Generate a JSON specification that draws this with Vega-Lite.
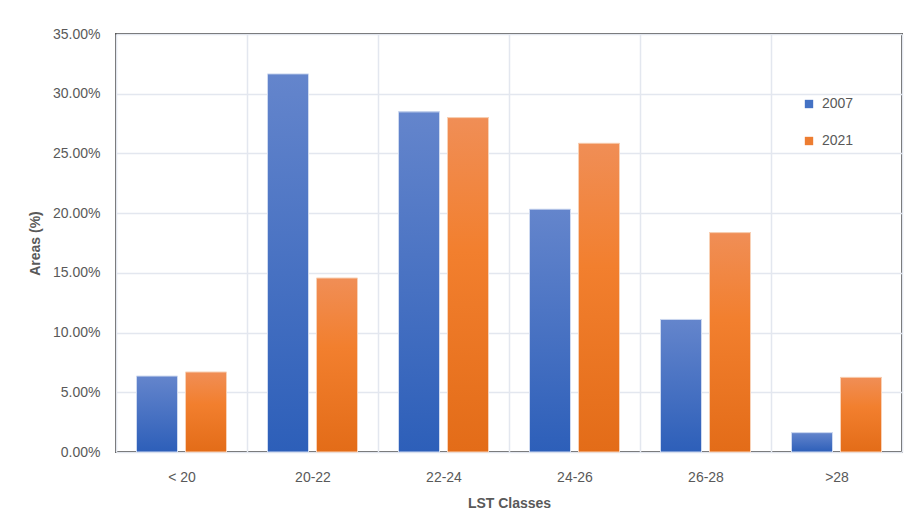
{
  "$schema": "https://vega.github.io/schema/vega-lite/v6.json",
  "autosize": {"type": "none"},
  "width": 786,
  "height": 418,
  "padding": {"left": 116, "top": 34, "right": 11, "bottom": 65},
  "background": "white",
  "config": {
    "font": "Liberation Sans",
    "view": {"stroke": "#595959", "strokeWidth": 2},
    "axis": {"labelColor": "#595959", "titleColor": "#595959", "labelFontSize": 14, "titleFontSize": 14, "titleFontWeight": "bold", "gridColor": "#e3e7ef", "gridWidth": 1.5, "domain": false, "ticks": false}
  },
  "data": {
    "values": [
      {"cls": "< 20", "year": "2007", "value": 0.0636},
      {"cls": "< 20", "year": "2021", "value": 0.0670},
      {"cls": "20-22", "year": "2007", "value": 0.3166},
      {"cls": "20-22", "year": "2021", "value": 0.1457},
      {"cls": "22-24", "year": "2007", "value": 0.2848},
      {"cls": "22-24", "year": "2021", "value": 0.2800},
      {"cls": "24-26", "year": "2007", "value": 0.2033},
      {"cls": "24-26", "year": "2021", "value": 0.2585},
      {"cls": "26-28", "year": "2007", "value": 0.1110},
      {"cls": "26-28", "year": "2021", "value": 0.1837},
      {"cls": ">28", "year": "2007", "value": 0.0162},
      {"cls": ">28", "year": "2021", "value": 0.0625}
    ]
  },
  "encoding": {
    "x": {"field": "cls", "type": "nominal", "sort": ["< 20", "20-22", "22-24", "24-26", "26-28", ">28"],
      "scale": {"paddingInner": 0, "paddingOuter": 0},
      "axis": {"title": "LST Classes", "labelAngle": 0, "labelPadding": 18, "titlePadding": 12, "grid": true, "tickBand": "extent"}},
    "xOffset": {"field": "year", "type": "nominal", "scale": {"paddingInner": 0.163, "paddingOuter": 0.418}},
    "y": {"field": "value", "type": "quantitative", "scale": {"domain": [0, 0.35], "nice": false},
      "axis": {"title": "Areas (%)", "format": ".2%", "values": [0, 0.05, 0.1, 0.15, 0.2, 0.25, 0.3, 0.35], "labelPadding": 16, "titlePadding": 10}}
  },
  "layer": [
    {
      "mark": {"type": "bar"},
      "encoding": {
        "color": {"field": "year", "type": "nominal", "scale": {"domain": ["2007", "2021"], "range": ["#4472c4", "#ed7d31"]},
          "legend": {"title": null, "orient": "none", "legendX": 686, "legendY": 63, "symbolType": "square", "symbolSize": 70, "labelFontSize": 14, "labelColor": "#595959", "rowPadding": 23, "labelOffset": 6}}
      }
    },
    {
      "transform": [{"filter": "datum.year == '2007'"}],
      "mark": {"type": "bar", "stroke": "#cfdaf0", "strokeWidth": 1,
        "color": {"gradient": "linear", "x1": 0, "y1": 0, "x2": 0, "y2": 1, "stops": [{"offset": 0, "color": "#6485cc"}, {"offset": 1, "color": "#2d5fb9"}]}},
      "encoding": {}
    },
    {
      "transform": [{"filter": "datum.year == '2021'"}],
      "mark": {"type": "bar", "stroke": "#f8d2b8", "strokeWidth": 1,
        "color": {"gradient": "linear", "x1": 0, "y1": 0, "x2": 0, "y2": 1, "stops": [{"offset": 0, "color": "#f08e56"}, {"offset": 0.4, "color": "#f27f2e"}, {"offset": 1, "color": "#e36c18"}]}},
      "encoding": {}
    }
  ]
}
